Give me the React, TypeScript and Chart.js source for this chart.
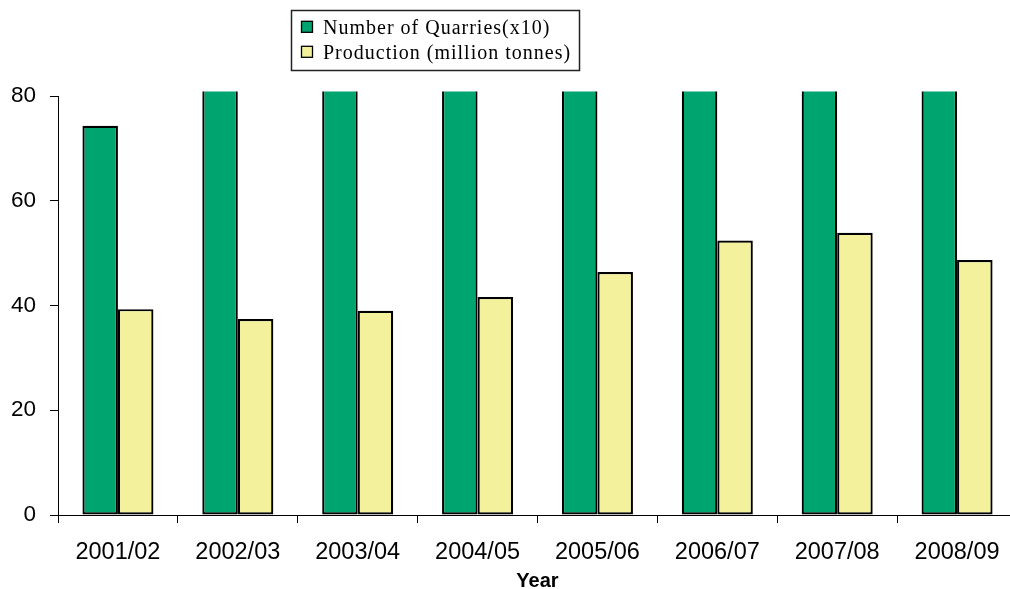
import React, { useEffect, useRef } from "react";
import { Chart, registerables } from "chart.js";

Chart.register(...registerables);

// Financial years on the category axis
const years = ["2001/02", "2002/03", "2003/04", "2004/05", "2005/06", "2006/07", "2007/08", "2008/09"];

// Number of quarries (in tens); bars above 80 run off the top of the plot
const quarries = [74.3, 86, 88, 89, 91, 93, 95, 92];

// Production in million tonnes
const production = [39.3, 37.4, 39.0, 41.6, 46.4, 52.4, 53.9, 48.7];

// Value axis ticks
const yTicks = [0, 20, 40, 60, 80];

const seriesLabels = ["Number of Quarries(x10)", "Production (million tonnes)"];
const seriesColours = ["#00A46F", "#F3F19B"];

// Legend drawn as a framed box above the plot
const boxedLegend = {
  id: "boxedLegend",
  afterDraw(chart: any) {
    const ctx = chart.ctx as CanvasRenderingContext2D;
    ctx.save();
    ctx.strokeStyle = "#222";
    ctx.lineWidth = 1.5;
    ctx.strokeRect(291.5, 10.5, 288, 60);
    ctx.font = '20px "Liberation Serif", "Times New Roman", serif';
    (ctx as any).letterSpacing = "1px";
    ctx.textBaseline = "alphabetic";
    ctx.textAlign = "left";
    chart.data.datasets.forEach((ds: any, i: number) => {
      const base = 34.3 + i * 25;
      ctx.fillStyle = ds.backgroundColor;
      ctx.fillRect(301.5, base - 13, 11, 11);
      ctx.lineWidth = 1.3;
      ctx.strokeStyle = "#000";
      ctx.strokeRect(301.5, base - 13, 11, 11);
      ctx.fillStyle = "#000";
      ctx.fillText(ds.label, 323, base);
    });
    ctx.restore();
  },
};

export default function App() {
  const canvasRef = useRef<HTMLCanvasElement | null>(null);

  useEffect(() => {
    const canvas = canvasRef.current;
    if (!canvas) return;
    const chart = new Chart(canvas, {
      type: "bar",
      data: {
        labels: years,
        datasets: [
          {
            label: seriesLabels[0],
            data: quarries,
            backgroundColor: seriesColours[0],
            borderColor: "#000",
            borderWidth: 2.2,
            borderSkipped: false,
            clip: { left: 0, top: 4.5, right: 0, bottom: 0 } as any,
          },
          {
            label: seriesLabels[1],
            data: production,
            backgroundColor: seriesColours[1],
            borderColor: "#000",
            borderWidth: 2.2,
            borderSkipped: false,
            clip: { left: 0, top: 4.5, right: 0, bottom: 0 } as any,
          },
        ],
      },
      options: {
        responsive: false,
        animation: false,
        devicePixelRatio: 1,
        categoryPercentage: 0.5925,
        barPercentage: 1,
        layout: { padding: { top: 96, left: 0, right: 13, bottom: 0 } },
        plugins: {
          legend: { display: false },
          tooltip: { enabled: false },
        },
        scales: {
          x: {
            grid: {
              display: true,
              drawOnChartArea: false,
              drawTicks: true,
              tickLength: 8,
              offset: true,
              color: "#000",
              lineWidth: 1,
            },
            border: { display: true, color: "#000", width: 1 },
            ticks: {
              color: "#000",
              padding: 15,
              maxRotation: 0,
              font: { family: '"Liberation Sans", Arial, sans-serif', size: 23.5 },
            },
            title: {
              display: true,
              text: "Year",
              color: "#000",
              font: { family: '"Liberation Sans", Arial, sans-serif', size: 20, weight: "bold", lineHeight: 1 },
              padding: { top: 0, bottom: -2 },
            },
            afterFit(scale: any) {
              scale.height = 74;
            },
          },
          y: {
            min: 0,
            max: 80,
            grid: {
              display: true,
              drawOnChartArea: false,
              drawTicks: true,
              tickLength: 8,
              color: "#000",
              lineWidth: 1,
            },
            border: { display: true, color: "#000", width: 1 },
            ticks: {
              color: "#000",
              padding: 14,
              font: { family: '"Liberation Sans", Arial, sans-serif', size: 22.5 },
            },
            afterBuildTicks(scale: any) {
              scale.ticks = yTicks.map((v) => ({ value: v }));
            },
            afterFit(scale: any) {
              scale.width = 58;
            },
          },
        },
      },
      plugins: [boxedLegend],
    });
    return () => chart.destroy();
  }, []);

  return (
    <div
      style={{
        position: "fixed",
        left: 0,
        top: 0,
        width: 1010,
        height: 589,
        overflow: "hidden",
        background: "#fff",
      }}
    >
      <canvas ref={canvasRef} width={1030} height={589} style={{ display: "block" }} />
    </div>
  );
}
